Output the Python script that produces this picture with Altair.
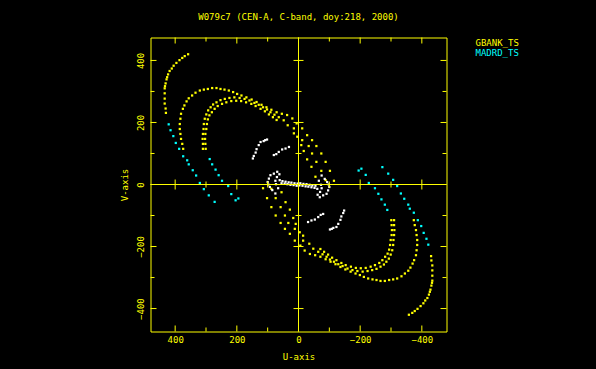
import altair as alt
import pandas as pd

YELLOW = "#ffff00"
CYAN = "#00ffff"
WHITE = "#ffffff"
FONT = "DejaVu Sans Mono"

TITLE = "W079c7 (CEN-A, C-band, doy:218, 2000)"
SERIES = ["GBANK_TS", "MADRD_TS", "other"]
SERIES_COLORS = [YELLOW, CYAN, WHITE]
LEGEND_NAMES = ["GBANK_TS", "MADRD_TS"]

U_RANGE = [-480, 480]
V_RANGE = [-474, 474]
MAJOR_TICKS = [-400, -200, 0, 200, 400]
MINOR_TICKS = [-300, -100, 100, 300]

OUTER_YELLOW = [(358, 420), (369, 414), (377, 408), (386, 401), (396, 392), (405, 383),
                (411, 374), (418, 366), (423, 355), (426, 346), (428, 339), (431, 326),
                (433, 317), (434, 310), (434, 294), (434, 277), (434, 261), (431, 245),
                (430, 231)]
OUTER_CYAN = [(421, 194), (415, 175), (406, 156), (398, 134), (387, 115), (374, 91),
              (361, 78), (356, 65), (343, 46), (332, 29), (320, 5), (307, -15),
              (291, -35), (272, -56)]
INNER_CYAN = [(288, 82), (280, 65), (269, 48), (259, 30), (248, 12), (228, -5),
              (218, -31), (204, -51), (195, -45)]
MIDDLE_YELLOW = [(374, 115), (377, 131), (381, 147), (383, 163), (385, 179), (385, 195),
                 (383, 212), (381, 228), (375, 244), (370, 255), (363, 268), (356, 278),
                 (345, 287), (334, 296), (320, 303), (307, 306), (294, 308), (280, 311),
                 (266, 311), (253, 308), (240, 306), (226, 303), (212, 298), (199, 292),
                 (185, 287), (169, 281), (152, 274), (136, 266), (120, 257), (104, 249),
                 (88, 241), (71, 233), (54, 228)]
LINE_A = [(37, 224), (20, 213), (6, 197), (-12, 181), (-28, 159), (-44, 143), (-58, 124),
          (-74, 100), (-88, 73), (-102, 44), (-115, 12)]
LINE_B = [(48, 207), (15, 181), (4, 154), (-12, 143), (-33, 124), (-44, 100), (-58, 73),
          (-74, 44), (-88, 14)]
LINE_C = [(35, 191), (15, 165), (-9, 127), (-17, 108), (-28, 81), (-42, 57), (-55, 25)]
BAND_1 = [(310, 115), (310, 131), (311, 147), (310, 163), (308, 179), (307, 195),
          (304, 212), (299, 226), (293, 239), (285, 249), (277, 258), (266, 265),
          (253, 272), (239, 276), (224, 279), (208, 281), (191, 279), (175, 276),
          (159, 271), (143, 263), (129, 257), (115, 249), (102, 242), (91, 233),
          (78, 225), (64, 217)]
BAND_2 = [(301, 115), (302, 131), (303, 147), (302, 163), (299, 179), (297, 195),
          (294, 210), (289, 223), (281, 233), (272, 244), (262, 253), (248, 260),
          (234, 265), (218, 269), (202, 270), (186, 269), (170, 265), (153, 260),
          (139, 253), (123, 244), (109, 236), (96, 226), (83, 217), (71, 208)]
WHITE_ARC_1 = [(102, 145), (108, 143), (113, 140), (123, 137), (129, 127), (136, 114),
               (139, 103), (145, 92), (148, 84)]
WHITE_ARC_2 = [(31, 121), (42, 116), (53, 113), (64, 105), (72, 98), (80, 95)]
WHITE_CORE_ARC = [(69, 41), (80, 35), (91, 30), (96, 19), (100, 8), (98, 0), (93, -8),
                  (85, -18), (75, -29), (62, 33), (70, 24), (75, 12), (73, 1), (66, -12)]
WHITE_CORE_BAND = [(61, 14), (52, 11), (42, 9), (32, 7), (23, 6), (13, 4), (3, 3),
                   (55, 4), (45, 3), (36, 1), (26, -1), (16, -2), (6, -4)]

TRACKS = [
    ("GBANK_TS", OUTER_YELLOW), ("GBANK_TS", MIDDLE_YELLOW), ("GBANK_TS", BAND_1),
    ("GBANK_TS", BAND_2), ("GBANK_TS", LINE_A), ("GBANK_TS", LINE_B), ("GBANK_TS", LINE_C),
    ("MADRD_TS", OUTER_CYAN), ("MADRD_TS", INNER_CYAN),
    ("other", WHITE_ARC_1), ("other", WHITE_ARC_2), ("other", WHITE_CORE_ARC),
    ("other", WHITE_CORE_BAND),
]

rows = []
for series, track in TRACKS:
    for u, v in track:
        rows.append({"u": u, "v": v, "series": series})
        rows.append({"u": -u, "v": -v, "series": series})
df = pd.DataFrame(rows)

xs = alt.Scale(domain=U_RANGE, reverse=True, nice=False, zero=False)
ys = alt.Scale(domain=V_RANGE, nice=False, zero=False)

axis_common = dict(ticks=False, domain=False, grid=False, labelColor=YELLOW,
                   titleColor=YELLOW, labelFont=FONT, titleFont=FONT, labelFontSize=9,
                   titleFontSize=9, titleFontWeight="normal")
XAXIS = alt.Axis(values=MAJOR_TICKS, title="U-axis", labelPadding=4, titlePadding=8,
                 **axis_common)
YAXIS = alt.Axis(values=MAJOR_TICKS, title="V-axis", labelAngle=270, labelAlign="center",
                 labelBaseline="bottom", labelPadding=5, titlePadding=7, **axis_common)

points = alt.Chart(df).mark_square(size=5, opacity=1).encode(
    x=alt.X("u:Q", scale=xs, axis=XAXIS),
    y=alt.Y("v:Q", scale=ys, axis=YAXIS),
    color=alt.Color("series:N", scale=alt.Scale(domain=SERIES, range=SERIES_COLORS),
                    legend=None),
)

major = pd.DataFrame({"t": MAJOR_TICKS})
minor = pd.DataFrame({"t": MINOR_TICKS})
zero = pd.DataFrame({"z": [0]})


def vticks(data, at, o1, o2):
    return alt.Chart(data).mark_rule(color=YELLOW, yOffset=o1, y2Offset=o2).encode(
        x=alt.X("t:Q", scale=xs, axis=XAXIS),
        y=alt.YDatum(at, scale=ys, axis=YAXIS),
        y2=alt.Y2Datum(at),
    )


def hticks(data, at, o1, o2):
    return alt.Chart(data).mark_rule(color=YELLOW, xOffset=o1, x2Offset=o2).encode(
        y=alt.Y("t:Q", scale=ys, axis=YAXIS),
        x=alt.XDatum(at, scale=xs, axis=XAXIS),
        x2=alt.X2Datum(at),
    )


tick_layers = [
    vticks(major, V_RANGE[0], 0, -6), vticks(minor, V_RANGE[0], 0, -4),
    vticks(major, V_RANGE[1], 0, 6), vticks(minor, V_RANGE[1], 0, 4),
    vticks(major, 0, -5, 5), vticks(minor, 0, -3, 3),
    hticks(major, U_RANGE[1], 0, 6), hticks(minor, U_RANGE[1], 0, 4),
    hticks(major, U_RANGE[0], 0, -6), hticks(minor, U_RANGE[0], 0, -4),
    hticks(major, 0, -5, 5), hticks(minor, 0, -3, 3),
]

hline = alt.Chart(zero).mark_rule(color=YELLOW).encode(
    y=alt.Y("z:Q", scale=ys, axis=YAXIS))
vline = alt.Chart(zero).mark_rule(color=YELLOW).encode(
    x=alt.X("z:Q", scale=xs, axis=XAXIS))

leg1 = alt.Chart(pd.DataFrame({"name": [LEGEND_NAMES[0]]})).mark_text(
    color=YELLOW, font=FONT, fontSize=9, align="left", baseline="middle"
).encode(text="name:N", x=alt.value(325), y=alt.value(5))
leg2 = alt.Chart(pd.DataFrame({"name": [LEGEND_NAMES[1]]})).mark_text(
    color=CYAN, font=FONT, fontSize=9, align="left", baseline="middle"
).encode(text="name:N", x=alt.value(325), y=alt.value(15))

chart = alt.layer(points, hline, vline, *tick_layers, leg1, leg2).properties(
    width=296,
    height=294,
    title=alt.TitleParams(TITLE, color=YELLOW, font=FONT, fontSize=9,
                          fontWeight="normal", offset=15, anchor="middle"),
    autosize=alt.AutoSizeParams(type="none"),
    padding={"left": 142.5, "top": 29.5, "right": 141.5, "bottom": 29.5},
).configure(background="#000000").configure_view(stroke=YELLOW, strokeWidth=1)


class BlackPage:
    """Wraps Altair's standard page template and makes the page background black."""

    def __init__(self):
        from altair.utils.html import TEMPLATES
        self.base = TEMPLATES["standard"]

    def render(self, *args, **kwargs):
        page = self.base.render(*args, **kwargs)
        style = "<style>html, body { background: #000000; }</style>"
        if "<head>" in page:
            return page.replace("<head>", "<head>" + style, 1)
        return style + page


try:
    chart.save("out.html", embed_options={"renderer": "svg", "actions": False},
               template=BlackPage())
except Exception:
    chart.save("out.html", embed_options={"renderer": "svg", "actions": False})
